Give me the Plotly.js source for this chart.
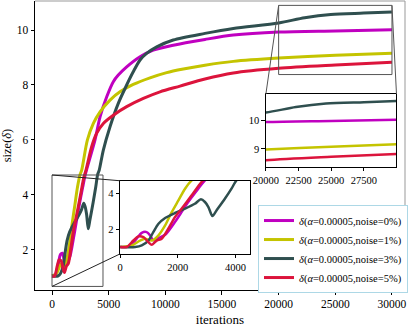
<!DOCTYPE html>
<html>
<head>
<meta charset="utf-8">
<script src="https://cdn.plot.ly/plotly-3.0.1.min.js"></script>
<style>
  html, body { margin: 0; padding: 0; background: #fff; }
  #chart { width: 409px; height: 327px; }
</style>
</head>
<body>
<div id="chart"></div>
<script>
// Values
const names = [
    "<i>δ</i>(<i>α</i>=0.00005,noise=0%)",
    "<i>δ</i>(<i>α</i>=0.00005,noise=1%)",
    "<i>δ</i>(<i>α</i>=0.00005,noise=3%)",
    "<i>δ</i>(<i>α</i>=0.00005,noise=5%)"
];
const colors = ["#c000c0", "#c4c400", "#2f4f4f", "#dc143c"];

// noise 0%
const magentaX = [0, 290, 520, 750, 920, 1040, 1150, 1330, 1560, 1900, 2130, 2360, 2710, 2940, 3790, 4240, 4830, 5410, 5850, 6590, 7770, 8940, 10700, 13500, 16000, 20000, 25000, 30000];
const magentaY = [1.04, 1.09, 1.4, 1.83, 1.87, 1.69, 1.42, 1.54, 1.72, 2.43, 2.98, 3.54, 4.28, 4.74, 5.99, 6.84, 7.57, 8.12, 8.36, 8.66, 9.03, 9.27, 9.45, 9.66, 9.82, 9.93, 9.97, 10.01];

// noise 1%
const yellowX = [0, 400, 690, 860, 1100, 1330, 1560, 1790, 2020, 2250, 2480, 2620, 3120, 3650, 4240, 5120, 6000, 7170, 8650, 10120, 11590, 13500, 16000, 20000, 25000, 30000];
const yellowY = [1.04, 1.13, 1.4, 1.5, 1.4, 1.69, 2.24, 2.98, 3.63, 4.28, 4.74, 4.9, 5.99, 6.6, 7.02, 7.45, 7.75, 8.02, 8.26, 8.45, 8.58, 8.72, 8.86, 8.98, 9.08, 9.16];

// noise 3%
const slateX = [0, 520, 750, 980, 1150, 1330, 1560, 1900, 2250, 2590, 2800, 2940, 3060, 3200, 3340, 3630, 3860, 4030, 4170, 4530, 5120, 5850, 6590, 7170, 7770, 8350, 9240, 10700, 13500, 16000, 20000, 22300, 24600, 27500, 30000];
const slateY = [1.04, 1.04, 1.13, 1.4, 1.87, 2.33, 2.65, 2.93, 3.17, 3.44, 3.69, 3.54, 3.26, 2.76, 3.07, 3.72, 4.28, 4.74, 4.9, 5.63, 6.48, 7.33, 8.0, 8.48, 8.91, 9.15, 9.39, 9.64, 9.88, 10.06, 10.26, 10.45, 10.57, 10.62, 10.66];

// noise 5%
const redX = [0, 230, 460, 630, 810, 980, 1100, 1270, 1440, 1670, 1900, 2130, 2480, 2820, 3000, 3500, 3940, 4530, 5410, 6590, 8060, 9530, 11300, 13500, 16000, 20000, 25000, 30000];
const redY = [1.04, 1.04, 1.4, 1.63, 1.59, 1.31, 1.17, 1.4, 1.5, 2.06, 2.7, 3.17, 3.91, 4.65, 4.9, 5.75, 6.24, 6.6, 6.9, 7.21, 7.51, 7.75, 7.96, 8.22, 8.44, 8.61, 8.73, 8.83];

const seriesX = [magentaX, yellowX, slateX, redX];
const seriesY = [magentaY, yellowY, slateY, redY];

// axis ranges
const mainX = [-1500, 31150];
const mainY = [0.53, 11.06];
const zoomA_X = [20000, 30000];
const zoomA_Y = [8.38, 10.9];
const zoomB_X = [0, 4500];
const zoomB_Y = [0.66, 4.72];

// inset positions (paper)
const domA_X = [0.624, 0.977];
const domA_Y = [0.426, 0.678];
const domB_X = [0.230, 0.581];
const domB_Y = [0.125, 0.378];

const serif = "Liberation Serif";

const traces = [];
seriesX.forEach((xs, i) => {
    traces.push({
        type: "scatter", mode: "lines", name: names[i],
        x: xs, y: seriesY[i],
        line: {color: colors[i], width: 3, shape: "spline", smoothing: 0.8},
        xaxis: "x", yaxis: "y"
    });
});
seriesX.forEach((xs, i) => {
    traces.push({
        type: "scatter", mode: "lines", showlegend: false,
        x: xs, y: seriesY[i],
        line: {color: colors[i], width: 2.5, shape: "spline", smoothing: 0.8},
        xaxis: "x2", yaxis: "y2"
    });
});
seriesX.forEach((xs, i) => {
    traces.push({
        type: "scatter", mode: "lines", showlegend: false,
        x: xs, y: seriesY[i],
        line: {color: colors[i], width: 2.5, shape: "spline", smoothing: 0.8},
        xaxis: "x3", yaxis: "y3"
    });
});

// helpers to turn main data coords into paper coords
const px = v => (v - mainX[0]) / (mainX[1] - mainX[0]);
const py = v => (v - mainY[0]) / (mainY[1] - mainY[0]);

const grey = "#555";
const shapes = [
    // grey top and right spines of the main axes
    {type: "line", xref: "paper", yref: "paper", x0: 0, x1: 1, y0: 1, y1: 1, line: {color: "#999", width: 1}},
    {type: "line", xref: "paper", yref: "paper", x0: 1, x1: 1, y0: 0, y1: 1, line: {color: "#999", width: 1}},
    // zoom boxes
    {type: "rect", xref: "x", yref: "y", x0: zoomA_X[0], x1: zoomA_X[1], y0: zoomA_Y[0], y1: zoomA_Y[1], line: {color: grey, width: 1}},
    {type: "rect", xref: "x", yref: "y", x0: zoomB_X[0], x1: zoomB_X[1], y0: zoomB_Y[0], y1: zoomB_Y[1], line: {color: grey, width: 1}},
    // connectors
    {type: "line", xref: "paper", yref: "paper", x0: px(zoomA_X[0]), y0: py(zoomA_Y[1]), x1: domA_X[0], y1: domA_Y[1], line: {color: grey, width: 1}},
    {type: "line", xref: "paper", yref: "paper", x0: px(zoomA_X[1]), y0: py(zoomA_Y[1]), x1: domA_X[1], y1: domA_Y[1], line: {color: grey, width: 1}},
    {type: "line", xref: "paper", yref: "paper", x0: px(zoomB_X[0]), y0: py(zoomB_Y[1]), x1: domB_X[0], y1: domB_Y[1], line: {color: "#222", width: 1}},
    {type: "line", xref: "paper", yref: "paper", x0: px(zoomB_X[0]), y0: py(zoomB_Y[0]), x1: domB_X[0], y1: domB_Y[0], line: {color: "#222", width: 1}}
];

const insetAxis = {
    showgrid: false, zeroline: false, showline: true, mirror: true,
    linecolor: "#000", linewidth: 1, ticks: "outside", ticklen: 3.5,
    tickcolor: "#000", tickfont: {size: 10.5, family: serif, color: "#000"}
};

Plotly.newPlot("chart", traces, {
    width: 409,
    height: 327,
    margin: {l: 35, r: 4, t: 1, b: 37},
    paper_bgcolor: "#fff",
    plot_bgcolor: "#fff",
    font: {family: serif, color: "#000", size: 11},
    showlegend: true,
    legend: {
        x: 0.6027, y: 0.294, xanchor: "left", yanchor: "top",
        bgcolor: "#fff", bordercolor: "#add8e6", borderwidth: 1,
        font: {size: 10.5, family: serif},
        itemwidth: 30, tracegroupgap: 0
    },

    // main axes
    xaxis: {
        range: mainX, showgrid: false, zeroline: false,
        showline: true, linecolor: "#000", linewidth: 1,
        ticks: "outside", ticklen: 3.5, tickcolor: "#000",
        tickvals: [0, 5000, 10000, 15000, 20000, 25000, 30000],
        ticktext: ["0", "5000", "10000", "15000", "20000", "25000", "30000"],
        tickfont: {family: serif, size: 11.5},
        title: {text: "iterations", font: {family: serif, size: 13}, standoff: 6}
    },
    yaxis: {
        range: mainY, showgrid: false, zeroline: false,
        showline: true, linecolor: "#000", linewidth: 1,
        ticks: "outside", ticklen: 3.5, tickcolor: "#000",
        tickvals: [2, 4, 6, 8, 10],
        tickfont: {family: serif, size: 11.5},
        title: {text: "size(<i>δ</i>)", font: {family: serif, size: 12.5}, standoff: 8}
    },

    // upper right inset
    xaxis2: Object.assign({}, insetAxis, {
        domain: domA_X, anchor: "y2", range: zoomA_X,
        tickvals: [20000, 22500, 25000, 27500],
        ticktext: ["20000", "22500", "25000", "27500"]
    }),
    yaxis2: Object.assign({}, insetAxis, {
        domain: domA_Y, anchor: "x2", range: zoomA_Y,
        tickvals: [9, 10]
    }),

    // lower left inset
    xaxis3: Object.assign({}, insetAxis, {
        domain: domB_X, anchor: "y3", range: zoomB_X,
        tickvals: [0, 2000, 4000]
    }),
    yaxis3: Object.assign({}, insetAxis, {
        domain: domB_Y, anchor: "x3", range: zoomB_Y,
        tickvals: [2, 4]
    }),

    shapes: shapes
}, {displayModeBar: false, staticPlot: true});
</script>
</body>
</html>
